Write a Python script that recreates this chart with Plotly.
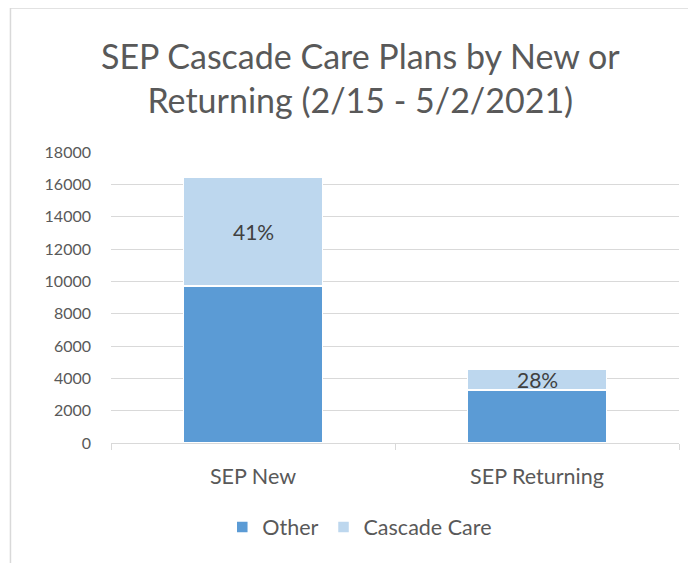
import plotly.graph_objects as go

categories = ["SEP New", "SEP Returning"]
other = [9700, 3280]
cascade = [6750, 1290]
labels = ["41%", "28%"]
legend_names = ["Other", "Cascade Care"]
title = "SEP Cascade Care Plans by New or<br>Returning (2/15 - 5/2/2021)"

FONT = "Lato"
TXT = "#595959"
GRID = "#d9d9d9"

fig = go.Figure()
fig.add_trace(go.Bar(x=categories, y=other, name=legend_names[0],
                     marker=dict(color="#5b9bd5", line=dict(color="white", width=1.5)),
                     width=0.49, hoverinfo="y"))
fig.add_trace(go.Bar(x=categories, y=cascade, name=legend_names[1],
                     marker=dict(color="#bdd7ee", line=dict(color="white", width=1.5)),
                     width=0.49, hoverinfo="y"))

for c, o, cc, t in zip(categories, other, cascade, labels):
    fig.add_annotation(x=c, y=o + cc / 2, text=t, showarrow=False,
                       font=dict(family=FONT, size=21, color="#404040"))

# title as annotation for precise placement
fig.add_annotation(xref="paper", yref="paper", x=0.44, y=1.256, xanchor="center", yanchor="middle",
                   text=title, showarrow=False, font=dict(family=FONT, size=34, color=TXT))

# chart-area border (left and top visible in reference)
fig.add_shape(type="line", xref="paper", yref="paper", x0=-0.177, x1=-0.177, y0=-0.6, y1=1.495,
              line=dict(color=GRID, width=1.5))
fig.add_shape(type="line", xref="paper", yref="paper", x0=-0.177, x1=1.1, y0=1.495, y1=1.495,
              line=dict(color=GRID, width=1.5))

fig.update_layout(
    barmode="stack",
    width=688, height=555,
    margin=dict(l=103, r=17, t=144, b=120),
    paper_bgcolor="white", plot_bgcolor="white",
    font=dict(family=FONT, color=TXT, size=16),
    legend=dict(orientation="h", x=0.438, xanchor="center", y=-0.289, yanchor="middle",
                font=dict(family=FONT, size=21.5, color=TXT), traceorder="normal", itemwidth=30),
    xaxis=dict(showline=True, linecolor=GRID, linewidth=1, ticks="outside", tickson="boundaries",
               ticklen=6, tickcolor=GRID, ticklabelstandoff=14,
               tickfont=dict(family=FONT, size=21.5, color=TXT), showgrid=False),
    yaxis=dict(range=[0, 18000], dtick=2000, showgrid=True, gridcolor=GRID, gridwidth=1,
               zeroline=False, showline=False, ticklabelstandoff=19,
               tickfont=dict(family=FONT, size=16, color=TXT), tickformat="d"),
)

fig.write_html("out.html")
